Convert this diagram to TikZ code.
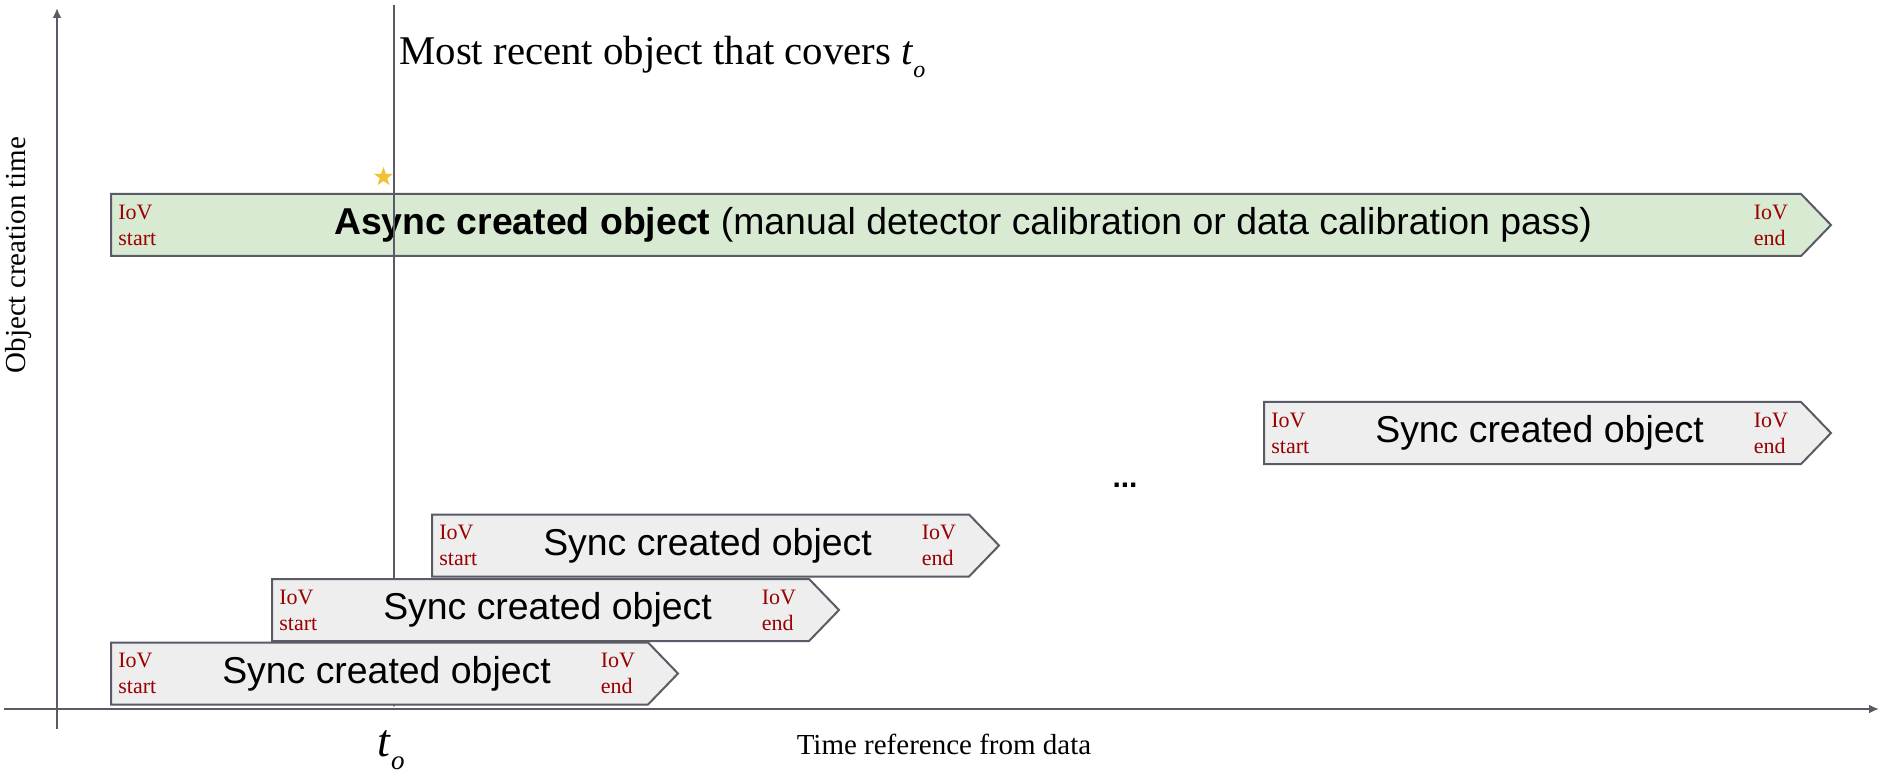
\documentclass[tikz,border=0pt]{standalone}
\usepackage{fontspec}
\setmainfont{Liberation Serif}
\setsansfont{Liberation Sans}
\usepackage{tikz}
\usetikzlibrary{shapes,arrows.meta,positioning}
\definecolor{axisgray}{RGB}{89,91,102}
\definecolor{asyncgreen}{RGB}{217,234,211}
\definecolor{syncgray}{RGB}{238,238,238}
\definecolor{iovred}{RGB}{153,0,0}
\definecolor{stargold}{RGB}{241,194,50}

\begin{document}
\begin{tikzpicture}[
    x=0.5pt, y=-0.5pt,
    axis/.style={draw=axisgray, line width=1pt, -{Latex[length=5pt,width=4.5pt]}},
    obj/.style={shape=signal, signal to=east, signal pointer angle=92, draw=axisgray, line width=1pt, minimum height=31pt, inner sep=0pt, anchor=west, font=\sffamily\fontsize{18.7}{22}\selectfont},
    syncobj/.style={obj, fill=syncgray, minimum width=283.5pt},
    asyncobj/.style={obj, fill=asyncgreen, minimum width=860pt},
    iov/.style={align=left, inner sep=0pt, text=iovred, font=\fontsize{11}{13}\selectfont},
    lbl/.style={font=\fontsize{14.5}{17}\selectfont}
]
    \useasboundingbox (0,0) rectangle (1881,775);

    % axes
    \coordinate (ybot) at (57,729);
    \coordinate (ytop) at (57,8);
    \coordinate (xleft) at (4,709);
    \coordinate (xright) at (1879,709);
    \draw[axis] (ybot) -- (ytop);
    \draw[axis] (xleft) -- (xright);
    \node[lbl, rotate=90] (ylabel) at (19,255) {Object creation time};
    \node[lbl] (xlabel) at (944,744) {Time reference from data};

    % async object
    \node[asyncobj] (async) at (110,225) {\hspace*{7pt}\textbf{Async created object} (manual detector calibration or data calibration pass)};
    \node[iov, right=4pt of async.west] (asyncstart) {IoV\\start};
    \node[iov, left=22pt of async.east] (asyncend) {IoV\\end};

    % t_o
    \coordinate (ttop) at (394,5);
    \coordinate (tbot) at (394,708);
    \draw[axis] (ttop) -- (tbot);
    \node[star, star points=5, star point ratio=2.5, fill=stargold, minimum size=10pt, inner sep=0pt] (star) at (383.5,177) {};
    \node[anchor=base west, inner sep=0pt, font=\fontsize{20.4}{24}\selectfont] (recent) at (399,65) {Most recent object that covers \textit{t}\raisebox{-0.3em}{\fontsize{12}{12}\selectfont\textit{o}}};
    \node[anchor=base west, inner sep=0pt, font=\fontsize{23}{26}\selectfont] (tzero) at (377,756) {\textit{t}\raisebox{-0.3em}{\fontsize{13.5}{14}\selectfont\textit{o}}};

    % sync objects
    \node[syncobj] (sync1) at (110,673.5) {\hspace*{7pt}Sync created object};
    \node[iov, right=4pt of sync1.west] (sync1start) {IoV\\start};
    \node[iov, left=22pt of sync1.east] (sync1end) {IoV\\end};

    \node[syncobj] (sync2) at (271,610) {\hspace*{7pt}Sync created object};
    \node[iov, right=4pt of sync2.west] (sync2start) {IoV\\start};
    \node[iov, left=22pt of sync2.east] (sync2end) {IoV\\end};

    \node[syncobj] (sync3) at (431,545.5) {\hspace*{7pt}Sync created object};
    \node[iov, right=4pt of sync3.west] (sync3start) {IoV\\start};
    \node[iov, left=22pt of sync3.east] (sync3end) {IoV\\end};

    \node[font=\sffamily\bfseries\fontsize{15}{18}\selectfont] (dots) at (1125,485) {...};

    \node[syncobj] (sync4) at (1263,433) {\hspace*{7pt}Sync created object};
    \node[iov, right=4pt of sync4.west] (sync4start) {IoV\\start};
    \node[iov, left=22pt of sync4.east] (sync4end) {IoV\\end};
\end{tikzpicture}
\end{document}
